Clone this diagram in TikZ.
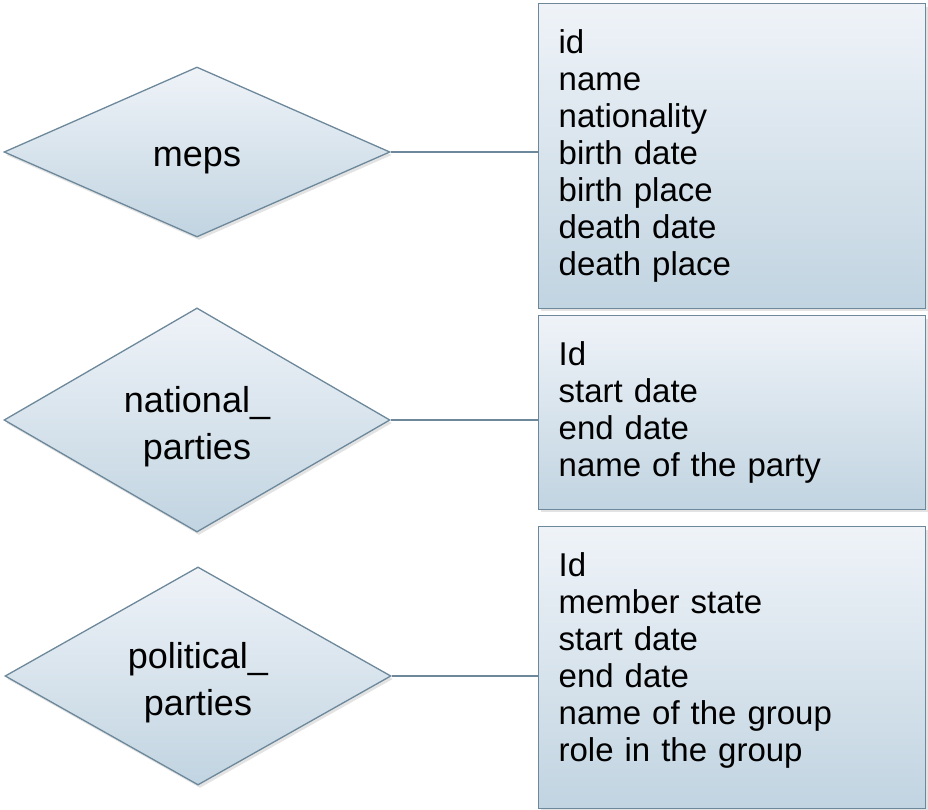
\documentclass[tikz,border=0pt]{standalone}
\usepackage{fontspec}
\setmainfont{Liberation Sans}
\usepackage{tikz}
\usetikzlibrary{shapes.geometric,shadows}
\definecolor{cardtop}{RGB}{239,243,248}
\definecolor{cardbottom}{RGB}{193,212,225}
\definecolor{cardedge}{RGB}{108,136,154}
\newcommand{\tailgap}{\rule[-21pt]{0pt}{1pt}}

\begin{document}
\begin{tikzpicture}[
  x=1pt, y=-1pt,
  relcard/.style={
    diamond,
    draw=cardedge,
    top color=cardtop,
    bottom color=cardbottom,
    line width=1.3pt,
    inner sep=0pt,
    minimum width=386pt,
    align=center,
    text depth=0pt,
    font=\fontsize{36}{47}\selectfont,
    drop shadow={shadow xshift=2pt, shadow yshift=-3pt, opacity=0.22}
  },
  entcard/.style={
    rectangle,
    anchor=north west,
    draw=cardedge,
    top color=cardtop,
    bottom color=cardbottom,
    line width=1.3pt,
    inner xsep=20pt,
    inner ysep=26pt,
    text width=347pt,
    align=left,
    font=\fontsize{33}{37}\selectfont,
    drop shadow={shadow xshift=2pt, shadow yshift=-3pt, opacity=0.22}
  },
  joinline/.style={
    draw=cardedge,
    line width=1.3pt
  }
]
  \useasboundingbox (0,0) rectangle (928,810);

  % ----------------------------------------------------
  % RELATIONS (diamonds on the left)
  % ----------------------------------------------------
  \node[relcard, minimum height=170pt, text height=30pt] (meps) at (197,152) {meps};
  \node[relcard, minimum height=199pt, text height=78pt] (natparties) at (197,420) {national\_\\parties};
  \node[relcard, minimum height=209pt, text height=78pt] (polparties) at (198,676) {political\_\\parties};

  % ----------------------------------------------------
  % FIELD LISTS (boxes on the right)
  % ----------------------------------------------------
  \node[entcard] (mepsfields) at (538,3) {
    id\\
    name\\
    nationality\\
    birth date\\
    birth place\\
    death date\\
    death place
  };

  \node[entcard] (natfields) at (538,315) {
    Id\\
    start date\\
    end date\\
    name of the party
  };

  \node[entcard] (polfields) at (538,526) {
    Id\\
    member state\\
    start date\\
    end date\\
    name of the group\\
    role in the group\tailgap
  };

  % Links from each relation to its fields
  \draw[joinline] (meps.east) -- (mepsfields.west |- meps.east);
  \draw[joinline] (natparties.east) -- (natfields.west |- natparties.east);
  \draw[joinline] (polparties.east) -- (polfields.west |- polparties.east);

\end{tikzpicture}
\end{document}
